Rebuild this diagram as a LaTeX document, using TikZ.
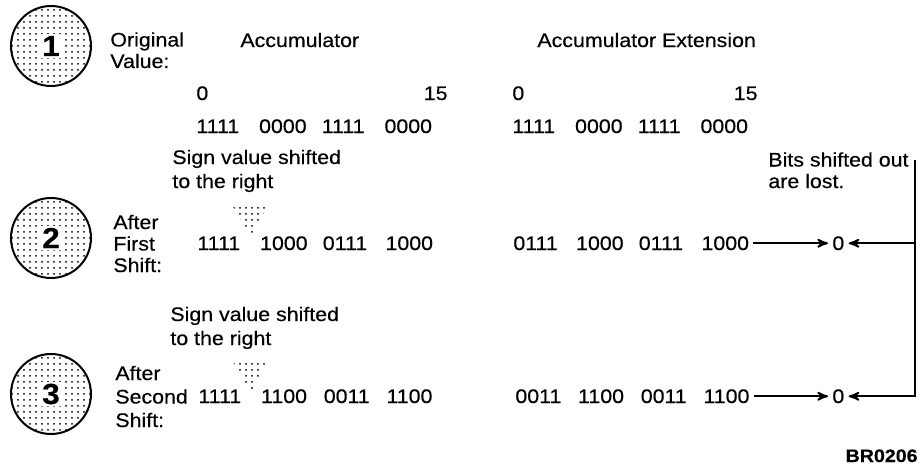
\documentclass[tikz,border=0pt]{standalone}
\usepackage{fontspec}
\setmainfont{Liberation Sans}[FakeStretch=1.09, FakeBold=0.4]
\usepackage{tikz}
\usetikzlibrary{arrows, positioning, patterns}
\tikzset{
  stepnum/.style={circle, draw, line width=1pt, minimum size=40pt,
                  pattern=dots},
  numtext/.style={fill=white, inner sep=0.8pt,
                  font=\fontsize{14.5}{14.5}\selectfont\bfseries},
  caption/.style={anchor=base west, align=left, inner sep=0pt,
                  font=\fontsize{9.8}{10.75}\selectfont},
  bits/.style={anchor=base west, inner xsep=2pt, inner ysep=0pt,
               font=\fontsize{9.8}{10.75}\selectfont},
  signmark/.style={pattern=dots, draw=none},
  shiftarrow/.style={-stealth', line width=0.9pt},
}
\begin{document}
\begin{tikzpicture}[x=0.5pt, y=-0.5pt]
  \useasboundingbox (0,0) rectangle (922,466);

  % Step circles
  \node[stepnum] (c1) at (51,46) {};
  \node[numtext] (n1) at (c1) {1};
  \node[stepnum] (c2) at (51,238) {};
  \node[numtext] (n2) at (c2) {2};
  \node[stepnum] (c3) at (51,394) {};
  \node[numtext] (n3) at (c3) {3};

  % Headings (base = last line)
  \node[caption] (orig) at (110,68) {Original\\Value:};
  \node[caption] (acc) at (240,47) {Accumulator};
  \node[caption] (accx) at (537,47) {Accumulator Extension};
  \node[caption] (a0) at (196,100) {0};
  \node[caption, anchor=base east] (a15) at (448,100) {15};
  \node[caption] (x0) at (512,100) {0};
  \node[caption, anchor=base east] (x15) at (758,100) {15};

  % Original value
  \foreach \g [count=\i from 0] in {1111,0000,1111,0000} {
    \node[bits] (a1-\i) at (192+62.7*\i,133) {\g};
    \node[bits] (x1-\i) at (508+62.7*\i,133) {\g};
  }

  % First shift
  \node[caption, font=\fontsize{9.8}{12}\selectfont] (sign1) at (172,188)
    {Sign value shifted\\ to the right};
  \path[signmark] (232,205) -- (268,205) -- (251,237) -- cycle;
  \node[caption] (after1) at (113,272) {After\\First\\Shift:};
  \foreach \g [count=\i from 0] in {1111,1000,0111,1000}
    \node[bits] (a2-\i) at (193+62.7*\i,250) {\g};
  \foreach \g [count=\i from 0] in {0111,1000,0111,1000}
    \node[bits] (x2-\i) at (509+62.7*\i,250) {\g};
  \node[bits] (z2) at (828,250) {0};

  % Second shift
  \node[caption, font=\fontsize{9.8}{12}\selectfont] (sign2) at (170,345)
    {Sign value shifted\\ to the right};
  \path[signmark] (232,360) -- (268,360) -- (251,392) -- cycle;
  \node[caption, font=\fontsize{9.8}{11.75}\selectfont] (after2) at (115,427)
    {After\\Second\\Shift:};
  \foreach \g [count=\i from 0] in {1111,1100,0011,1100}
    \node[bits] (a3-\i) at (194+62.7*\i,403) {\g};
  \foreach \g [count=\i from 0] in {0011,1100,0011,1100}
    \node[bits] (x3-\i) at (511+62.7*\i,403) {\g};
  \node[bits] (z3) at (828,403) {0};

  % Lost bits
  \node[caption] (lost) at (768,188) {Bits shifted out\\are lost.};
  \coordinate (feed) at (915,160);
  \draw[shiftarrow] (x2-3) -- (z2);
  \draw[shiftarrow] (x3-3) -- (z3);
  \draw[shiftarrow] (feed) |- (z3);
  \draw[shiftarrow] (feed |- z2) -- (z2);

  \node[anchor=base east, inner sep=0pt, font=\fontsize{9}{9}\selectfont\bfseries]
    (code) at (918,462) {BR0206};
\end{tikzpicture}
\end{document}
